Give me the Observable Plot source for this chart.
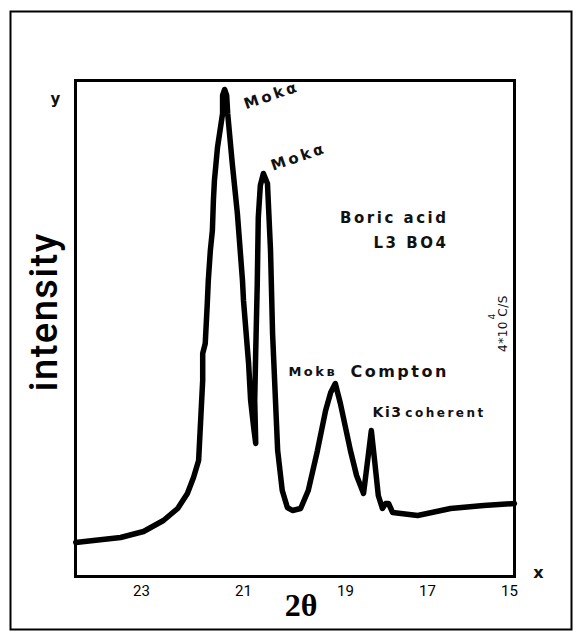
<!DOCTYPE html>
<html><head><meta charset="utf-8">
<style>
html,body{margin:0;padding:0;background:#fff;}
#chart{width:580px;height:637px;}
svg{display:block;}
</style>
<script src="https://cdn.jsdelivr.net/npm/d3@7"></script>
<script src="https://cdn.jsdelivr.net/npm/@observablehq/plot@0.6"></script>
</head><body><div id="chart"></div>
<script>
// 2θ (degrees) and intensity (arbitrary units, 0–100 of frame height)
const twoTheta = [24.29,23.94,23.41,22.96,22.57,22.29,22.10,21.98,21.88,21.86,21.84,21.80,21.80,21.75,21.71,21.69,21.65,21.61,21.59,21.57,21.51,21.41,21.41,21.37,21.33,21.31,21.22,21.12,21.02,21.00,20.90,20.86,20.80,20.76,20.78,20.76,20.73,20.71,20.67,20.61,20.53,20.47,20.43,20.33,20.24,20.14,20.04,19.88,19.73,19.55,19.39,19.29,19.20,19.10,18.88,18.73,18.56,18.46,18.37,18.29,18.20,18.10,18.02,17.95,17.85,17.24,16.44,15.63,14.88];
const intensity = [6.85,7.26,7.86,9.07,11.29,13.71,16.73,19.96,23.39,27.42,31.45,39.52,44.96,46.98,55.04,59.68,65.73,69.76,75.81,79.84,86.49,93.35,96.98,98.19,96.98,93.35,83.27,73.19,59.68,55.65,42.94,35.48,30.0,26.81,35.48,45.56,59.07,72.38,78.83,81.25,79.23,65.73,48.99,25.40,17.34,13.91,13.31,13.71,17.34,25.40,33.47,37.10,38.91,34.88,25.40,20.36,16.73,23.39,29.44,23.39,16.33,13.71,14.72,14.72,12.90,12.30,13.71,14.31,14.72];
const xTicks = [23, 21, 19, 17, 15];

// annotations (data coordinates)
const peakLabels = ["Mokα", "Mokα"];
const peakLabelX = [20.45, 19.92];
const peakLabelY = [97.0, 84.6];

const sampleLabels = ["Boric acid", "L3 BO4"];
const sampleLabelX = [16.49, 16.49];
const sampleLabelY = [72.2, 67.1];

const comptonLabels = ["Mokʙ", "Compton"];
const comptonLabelX = [20.12, 18.88];
const comptonLabelY = [41.3, 41.3];

const coherentLabels = ["Ki3", "coherent"];
const coherentLabelX = [18.34, 17.54];
const coherentLabelY = [33.1, 33.0];

const unitLabel = ["4*10 C/S"];
const unitX = [15.15];
const unitY = [51.0];
const unitExp = ["4"];
const unitExpX = [15.42];
const unitExpY = [52.4];

const axisTitleY = ["intensity"];
const axisTitleYX = [24.9];
const axisTitleYY = [53.4];

const curve = twoTheta.map((t, i) => ({t, v: intensity[i]}));
const tbl = (texts, xs, ys) => texts.map((s, i) => ({s, x: xs[i], y: ys[i]}));

const sans = "DejaVu Sans, Verdana, sans-serif";

const chart = Plot.plot({
  width: 580,
  height: 637,
  marginLeft: 75,
  marginRight: 66,
  marginTop: 80,
  marginBottom: 61,
  style: {background: "#fff", color: "#000"},
  x: {type: "linear", domain: [24.294, 19, 14.878], range: [75, 345, 514]},
  y: {domain: [0, 100], axis: null},
  marks: [
    Plot.frame({stroke: "#000", strokeWidth: 2, insetLeft: -65, insetTop: -69, insetRight: -57, insetBottom: -53}),
    Plot.frame({stroke: "#000", strokeWidth: 3}),
    Plot.axisX({ticks: xTicks, tickSize: 0, tickPadding: 9, fontSize: 15, fontFamily: "Roboto, sans-serif", label: null}),
    Plot.line(curve, {x: "t", y: "v", stroke: "#000", strokeWidth: 5.5, strokeLinejoin: "round", strokeLinecap: "round"}),
    Plot.text(tbl(peakLabels, peakLabelX, peakLabelY), {x: "x", y: "y", text: "s", rotate: -19, fontSize: 15, fontWeight: "bold", fontFamily: sans, fill: "#111"}),
    Plot.text(tbl(sampleLabels, sampleLabelX, sampleLabelY), {x: "x", y: "y", text: "s", textAnchor: "end", fontSize: 15, fontWeight: "bold", fontFamily: sans, fill: "#111"}),
    Plot.text(tbl(comptonLabels.slice(0,1), comptonLabelX, comptonLabelY), {x: "x", y: "y", text: "s", textAnchor: "start", fontSize: 13, fontWeight: "bold", fontFamily: sans, fill: "#111"}),
    Plot.text(tbl(comptonLabels.slice(1), comptonLabelX.slice(1), comptonLabelY.slice(1)), {x: "x", y: "y", text: "s", textAnchor: "start", fontSize: 16, fontWeight: "bold", fontFamily: sans, fill: "#111"}),
    Plot.text(tbl(coherentLabels.slice(0,1), coherentLabelX, coherentLabelY), {x: "x", y: "y", text: "s", textAnchor: "start", fontSize: 14, fontWeight: "bold", fontFamily: sans, fill: "#111"}),
    Plot.text(tbl(coherentLabels.slice(1), coherentLabelX.slice(1), coherentLabelY.slice(1)), {x: "x", y: "y", text: "s", textAnchor: "start", fontSize: 12, fontWeight: "bold", fontFamily: sans, fill: "#111"}),
    Plot.text(tbl(unitLabel, unitX, unitY), {x: "x", y: "y", text: "s", rotate: -90, fontSize: 12, fontFamily: sans, fill: "#111"}),
    Plot.text(tbl(unitExp, unitExpX, unitExpY), {x: "x", y: "y", text: "s", rotate: -90, fontSize: 9, fontFamily: sans, fill: "#111"}),
    Plot.text(tbl(axisTitleY, axisTitleYX, axisTitleYY), {x: "x", y: "y", text: "s", rotate: -90, fontSize: 38, fontWeight: 500, fontFamily: "Roboto, sans-serif", fill: "#000"}),
    Plot.text(["x"], {frameAnchor: "bottom-right", dx: 29, dy: 1, fontSize: 16, fontWeight: "bold", fontFamily: sans, fill: "#111"}),
    Plot.text(["y"], {frameAnchor: "top-left", dx: -25, dy: 13, fontSize: 15, fontWeight: "bold", fontFamily: sans, fill: "#111"}),
    Plot.text(["2θ"], {frameAnchor: "bottom", dx: 6, dy: 39, fontSize: 32, fontWeight: "bold", fontFamily: "Liberation Serif, Times New Roman, serif", fill: "#000"})
  ]
});
document.getElementById("chart").appendChild(chart);

// letter spacing to mimic the wide lettering of the original
const spacing = {"Mokα": 3, "Boric acid": 2.5, "L3 BO4": 2.5, "Mokʙ": 2.5, "Compton": 2.5, "Ki3": 1.5, "coherent": 2.5, "intensity": 1.5, "4*10 C/S": 0.5};
d3.select(chart).selectAll("text").each(function() {
  const s = this.textContent;
  if (spacing[s] !== undefined) this.style.letterSpacing = spacing[s] + "px";
});
</script>
</body></html>
